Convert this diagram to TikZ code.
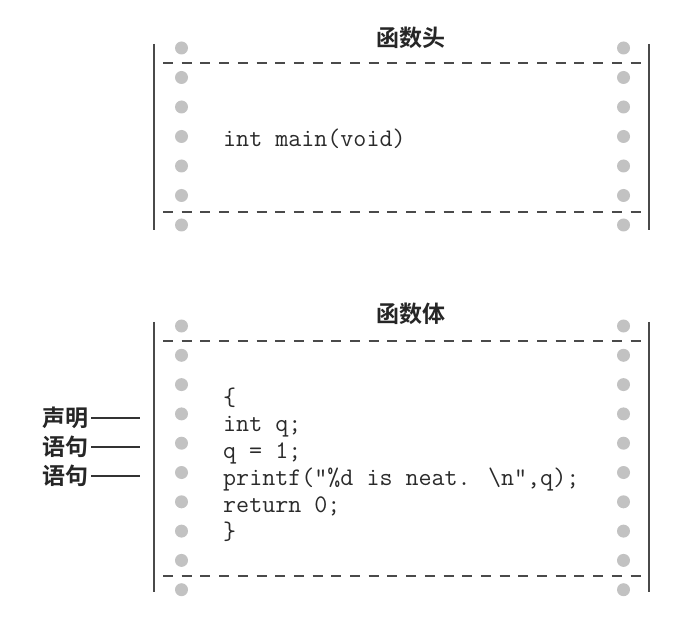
\documentclass[tikz,border=0pt]{standalone}
\usepackage{fontspec}
\newfontfamily\cjk{Noto Sans CJK SC}[BoldFont={* Bold}]
\definecolor{linegray}{HTML}{4A4A4A}
\definecolor{dotgray}{HTML}{C2C2C2}
\definecolor{codegray}{HTML}{2A2A2A}
\begin{document}
\begin{tikzpicture}[x=1pt,y=-1pt,
  frame/.style={draw=linegray,line width=2.4pt},
  perf/.style={draw=linegray,line width=2pt,dash pattern=on 10pt off 8.7pt},
  hole/.style={fill=dotgray},
  title/.style={font=\cjk\bfseries\fontsize{23}{23}\selectfont,text=black!85,inner sep=0pt},
  code/.style={font=\ttfamily\fontsize{25.3}{25.3}\selectfont,text=codegray,anchor=base west,inner sep=0pt},
  lab/.style={font=\cjk\bfseries\fontsize{23}{23}\selectfont,text=black!85,anchor=west,inner sep=0pt},
  tick/.style={draw=black!80,line width=1.3pt}]
\useasboundingbox (0,0) rectangle (688,628);
% ---------- top box ----------
\node[title] (t1) at (410.5,38) {函数头};
\draw[frame] (154,44) -- (154,230);
\draw[frame] (649,44) -- (649,230);
\draw[perf] (163,63.5) -- (649,63.5);
\draw[perf] (163,212) -- (649,212);
\foreach \i in {0,...,6}{
  \fill[hole] (181.5,48+29.5*\i) circle (6.5);
  \fill[hole] (623.5,48+29.5*\i) circle (6.5);
}
\node[code] (head) at (223,147) {int main(void)};
% ---------- bottom box ----------
\node[title] (t2) at (410.5,314) {函数体};
\draw[frame] (154,322) -- (154,592);
\draw[frame] (649,322) -- (649,592);
\draw[perf] (163,340.7) -- (649,340.7);
\draw[perf] (163,575.7) -- (649,575.7);
\foreach \i in {0,...,9}{
  \fill[hole] (181.5,326+29.3*\i) circle (6.5);
  \fill[hole] (623.5,326+29.3*\i) circle (6.5);
}
\node[code] (c1) at (223,405) {\{};
\node[code] (c2) at (223,431.5) {int q;};
\node[code] (c3) at (223,458.5) {q = 1;};
\node[code] (c4) at (223,485.5) {printf("\%d is neat. \textbackslash n",q);};
\node[code] (c5) at (223,512.5) {return 0;};
\node[code] (c6) at (223,539.5) {\}};
% ---------- labels ----------
\node[lab] (l1) at (42,418) {声明};
\node[lab] (l2) at (42,447) {语句};
\node[lab] (l3) at (42,476) {语句};
\coordinate (e1) at (140,418);
\coordinate (e2) at (140,447);
\coordinate (e3) at (140,476);
\draw[tick] ([xshift=3pt]l1.east) -- (e1);
\draw[tick] ([xshift=3pt]l2.east) -- (e2);
\draw[tick] ([xshift=3pt]l3.east) -- (e3);
\end{tikzpicture}
\end{document}
